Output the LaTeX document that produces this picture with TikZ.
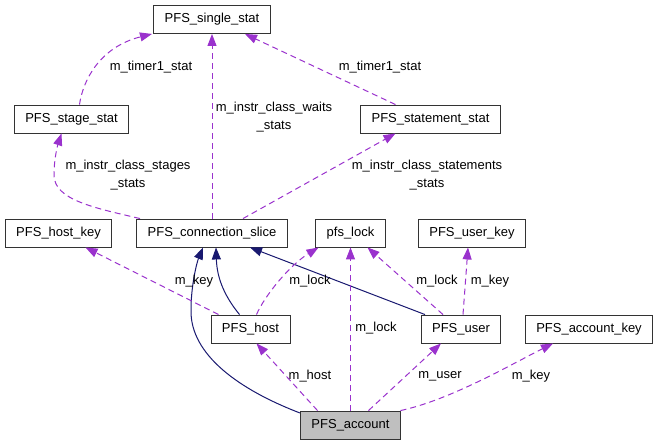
\documentclass[tikz,border=0pt]{standalone}
\usepackage{fontspec}
\setmainfont{Liberation Sans}
\usetikzlibrary{arrows.meta}
\definecolor{memberpurple}{HTML}{9A32CD}
\definecolor{basenavy}{HTML}{191970}

\begin{document}
\begin{tikzpicture}[x=1pt,y=-1pt,
	classbox/.style={draw=black!80,line width=0.9pt,fill=white,minimum height=28pt,inner xsep=11pt,inner ysep=0pt,font=\fontsize{13}{18}\selectfont},
	member/.style={draw=memberpurple,line width=1pt,dash pattern=on 6pt off 4pt,-{Triangle[length=12pt,width=9pt]}},
	inherit/.style={draw=basenavy,line width=1pt,-{Triangle[length=12pt,width=9pt]}},
	edgelabel/.style={font=\fontsize{13}{18}\selectfont,align=center,inner sep=0pt}]

	\useasboundingbox (0,0) rectangle (659,445);

	% Stat classes %
	\node [classbox] (singlestat) at (212,19.5) {PFS\_single\_stat};
	\node [classbox] (stagestat) at (71.5,119) {PFS\_stage\_stat};
	\node [classbox] (statementstat) at (430.5,119) {PFS\_statement\_stat};
	% Middle row %
	\node [classbox] (hostkey) at (58.5,233) {PFS\_host\_key};
	\node [classbox] (connslice) at (212,233) {PFS\_connection\_slice};
	\node [classbox] (pfslock) at (350.5,233) {pfs\_lock};
	\node [classbox] (userkey) at (472,233) {PFS\_user\_key};
	% Lower row %
	\node [classbox] (pfshost) at (250.5,329) {PFS\_host};
	\node [classbox] (pfsuser) at (461,329) {PFS\_user};
	\node [classbox] (accountkey) at (589,329) {PFS\_account\_key};
	\node [classbox,fill=black!25] (pfsaccount) at (350.5,425) {PFS\_account};

	% Timer stats %
	\draw [member] ([xshift=8pt]stagestat.north) .. controls (83,80) and (100,47) .. ([xshift=-60pt]singlestat.south);
	\draw [member] ([xshift=-35pt]statementstat.north) -- ([xshift=33pt]singlestat.south);
	\node [edgelabel] (timerleft) at (151,67) {m\_timer1\_stat};
	\node [edgelabel] (timerright) at (380,67) {m\_timer1\_stat};
	% Instrument class stats %
	\draw [member] (connslice.north) -- (singlestat.south);
	\draw [member] ([xshift=-72pt]connslice.north) .. controls (95,208) and (54,200) .. (54,175) .. controls (54,158) and (58,144) .. ([xshift=-10pt]stagestat.south);
	\draw [member] ([xshift=31pt]connslice.north) -- ([xshift=-35pt]statementstat.south);
	\node [edgelabel] (waitslabel) at (274,117) {m\_instr\_class\_waits\\\_stats};
	\node [edgelabel] (stageslabel) at (128,175) {m\_instr\_class\_stages\\\_stats};
	\node [edgelabel] (statementslabel) at (427,175) {m\_instr\_class\_statements\\\_stats};

	% Base classes %
	\draw [inherit] ([xshift=-11pt]pfshost.north) .. controls (226,298) and (217,280) .. ([xshift=4pt]connslice.south);
	\draw [inherit] ([xshift=-36pt]pfsuser.north) -- ([xshift=38pt]connslice.south);
	\draw [inherit] ([yshift=12pt]pfsaccount.west) .. controls (240,390) and (190,355) .. (191,310) .. controls (191,285) and (197,262) .. ([xshift=-9pt]connslice.south);

	% Host members %
	\draw [member] ([xshift=-32pt]pfshost.north) -- ([xshift=27pt]hostkey.south);
	\draw [member] ([xshift=6pt]pfshost.north) .. controls (265,295) and (290,265) .. ([xshift=-32pt]pfslock.south);
	\node [edgelabel] (hostkeylabel) at (194,281) {m\_key};
	\node [edgelabel] (hostlocklabel) at (310,281) {m\_lock};
	% User members %
	\draw [member] ([xshift=-18pt]pfsuser.north) -- ([xshift=17pt]pfslock.south);
	\draw [member] ([xshift=2pt]pfsuser.north) -- ([xshift=-4pt]userkey.south);
	\node [edgelabel] (userlocklabel) at (437,281) {m\_lock};
	\node [edgelabel] (userkeylabel) at (490,281) {m\_key};
	% Account members %
	\draw [member] ([xshift=-33pt]pfsaccount.north) -- ([xshift=6pt]pfshost.south);
	\draw [member] (pfsaccount.north) -- (pfslock.south);
	\draw [member] ([xshift=18pt]pfsaccount.north) -- ([xshift=-20pt]pfsuser.south);
	\draw [member] ([xshift=50pt]pfsaccount.north) .. controls (450,400) and (510,365) .. ([xshift=-36pt]accountkey.south);
	\node [edgelabel] (accounthostlabel) at (310,376) {m\_host};
	\node [edgelabel] (accountlocklabel) at (376,328) {m\_lock};
	\node [edgelabel] (accountuserlabel) at (440,376) {m\_user};
	\node [edgelabel] (accountkeylabel) at (531,376) {m\_key};
\end{tikzpicture}
\end{document}
